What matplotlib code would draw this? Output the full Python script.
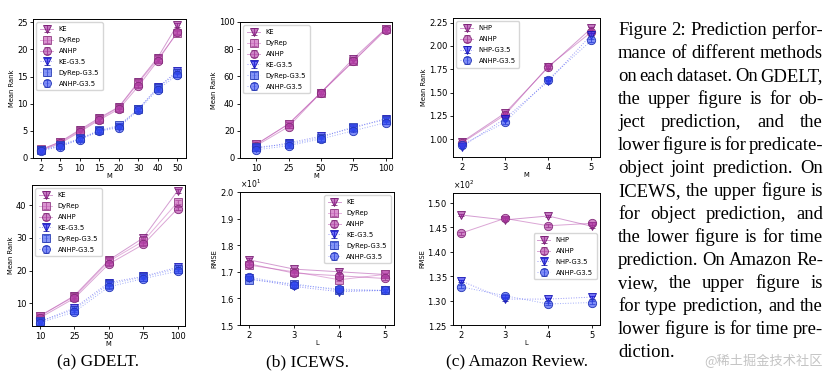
import matplotlib
matplotlib.use('Agg')
import matplotlib.pyplot as plt
from matplotlib.ticker import ScalarFormatter, MultipleLocator
from matplotlib.colors import to_rgba

# ---------------- data ----------------
gd_obj_M = ['2', '5', '10', '15', '20', '30', '40', '50']
gd_obj_KE = [1.5, 3.0, 5.2, 7.4, 9.4, 14.0, 18.5, 24.5]
gd_obj_DyRep = [1.6, 2.9, 5.0, 7.2, 9.3, 13.8, 18.2, 23.0]
gd_obj_ANHP = [1.4, 2.7, 4.8, 7.0, 9.0, 13.2, 17.9, 23.2]
gd_obj_KE_G = [1.4, 2.2, 3.5, 5.0, 5.8, 9.0, 13.0, 16.0]
gd_obj_DyRep_G = [1.5, 2.4, 3.6, 5.1, 6.0, 9.0, 12.9, 15.7]
gd_obj_ANHP_G = [1.3, 2.1, 3.4, 4.9, 5.6, 8.8, 12.6, 15.3]

ic_obj_M = ['10', '25', '50', '75', '100']
ic_obj_KE = [10, 25, 48, 73, 95]
ic_obj_DyRep = [10, 25, 48, 71, 95]
ic_obj_ANHP = [9, 23, 48, 71, 94]
ic_obj_KE_G = [7, 11, 16, 22, 29]
ic_obj_DyRep_G = [8, 10, 15, 23, 28]
ic_obj_ANHP_G = [6, 9, 14, 20, 26]

am_type_M = ['2', '3', '4', '5']
am_type_NHP = [0.97, 1.28, 1.77, 2.19]
am_type_ANHP = [0.96, 1.26, 1.78, 2.15]
am_type_NHP_G = [0.92, 1.22, 1.62, 2.12]
am_type_ANHP_G = [0.94, 1.18, 1.64, 2.06]

gd_joint_M = ['10', '25', '50', '75', '100']
gd_joint_KE = [6.0, 12.3, 23.2, 30.0, 44.5]
gd_joint_DyRep = [6.2, 12.0, 22.8, 29.0, 41.0]
gd_joint_ANHP = [5.5, 11.5, 22.0, 28.0, 39.0]
gd_joint_KE_G = [4.3, 8.5, 16.3, 18.2, 21.0]
gd_joint_DyRep_G = [4.5, 8.0, 15.8, 18.0, 20.5]
gd_joint_ANHP_G = [4.0, 7.3, 15.0, 17.5, 19.8]

ic_time_L = ['2', '3', '4', '5']
ic_time_KE = [17.45, 17.10, 17.00, 16.90]
ic_time_DyRep = [17.25, 17.00, 16.70, 16.90]
ic_time_ANHP = [17.30, 16.95, 16.85, 16.75]
ic_time_KE_G = [16.75, 16.45, 16.25, 16.30]
ic_time_DyRep_G = [16.70, 16.55, 16.30, 16.30]
ic_time_ANHP_G = [16.80, 16.50, 16.35, 16.30]

am_time_L = ['2', '3', '4', '5']
am_time_NHP = [147.5, 146.5, 147.3, 145.2]
am_time_ANHP = [143.8, 146.8, 145.3, 145.8]
am_time_NHP_G = [134.0, 130.3, 130.3, 130.7]
am_time_ANHP_G = [132.8, 131.0, 129.3, 129.6]

caption_labels = ['(a) GDELT.', '(b) ICEWS.', '(c) Amazon Review.']
paragraph_lines = [
    "Figure 2: Prediction perfor-",
    "mance of different methods",
    "on each dataset. On GDELT,",
    "the upper figure is for ob-",
    "ject prediction, and the",
    "lower figure is for predicate-",
    "object joint prediction. On",
    "ICEWS, the upper figure is",
    "for object prediction, and",
    "the lower figure is for time",
    "prediction. On Amazon Re-",
    "view, the upper figure is",
    "for type prediction, and the",
    "lower figure is for time pre-",
    "diction.",
]
watermark = "@稀土掘金技术社区"

# ---------------- styles ----------------
STY = {
    'KE': ('#a0259a', 'v', '-'),
    'NHP': ('#a0259a', 'v', '-'),
    'DyRep': ('#c455b4', 's', '-'),
    'ANHP': ('#b03aa3', 'o', '-'),
    'KE-G3.5': ('#1a1aee', 'v', ':'),
    'NHP-G3.5': ('#1a1aee', 'v', ':'),
    'DyRep-G3.5': ('#3a55f0', 's', ':'),
    'ANHP-G3.5': ('#3048f2', 'o', ':'),
}

W, H = 831, 384
fig = plt.figure(figsize=(W / 100, H / 100), dpi=100)


def ax_px(x0, y0, x1, y1):
    return fig.add_axes([x0 / W, 1 - y1 / H, (x1 - x0) / W, (y1 - y0) / H])


def panel(ax, xlabels, series, err, ylim, xlim, ylabel, xlabel, loc,
          bbox=None, sci=False, major=None):
    x = list(range(len(xlabels)))
    for name, vals in series:
        c, m, ls = STY[name]
        r, g, b, _ = to_rgba(c)
        ax.errorbar(x, vals, yerr=err, marker=m, ms=6.0,
                    color=(r, g, b, 0.45), ls=ls, lw=0.7,
                    mfc=(r, g, b, 0.62), mec=(r * 0.75, g * 0.75, b * 0.75, 1),
                    mew=0.6, ecolor=(r * 0.7, g * 0.7, b * 0.7, 0.9),
                    elinewidth=0.6, capsize=2.0, capthick=0.6, label=name)
    ax.set_xticks(x)
    ax.set_xticklabels(xlabels)
    ax.set_xlim(*xlim)
    ax.set_ylim(*ylim)
    if major is not None:
        ax.yaxis.set_major_locator(MultipleLocator(major))
    if sci:
        fmt = ScalarFormatter(useMathText=True)
        fmt.set_powerlimits((0, 0))
        ax.yaxis.set_major_formatter(fmt)
        ax.yaxis.get_offset_text().set_fontsize(5.5)
    ax.tick_params(labelsize=6.0, length=2.5, width=0.6, pad=1.5)
    ax.set_ylabel(ylabel, fontsize=4.9, labelpad=1.5)
    ax.set_xlabel(xlabel, fontsize=4.9, labelpad=0.3)
    for s in ax.spines.values():
        s.set_linewidth(0.7)
    kw = dict(loc=loc, fontsize=4.9, markerscale=0.95, handlelength=1.9,
              borderpad=0.55, labelspacing=0.72, handletextpad=0.8,
              framealpha=0.8, edgecolor='#cccccc')
    if bbox is not None:
        kw['bbox_to_anchor'] = bbox
    ax.legend(**kw)


ax1 = ax_px(33, 19, 186, 158)
panel(ax1, gd_obj_M,
      [('KE', gd_obj_KE), ('DyRep', gd_obj_DyRep), ('ANHP', gd_obj_ANHP),
       ('KE-G3.5', gd_obj_KE_G), ('DyRep-G3.5', gd_obj_DyRep_G),
       ('ANHP-G3.5', gd_obj_ANHP_G)],
      0.3, (0, 25.6), (-0.4, 7.45), 'Mean Rank', 'M', 'upper left', major=5)

ax2 = ax_px(240, 22, 392, 158)
panel(ax2, ic_obj_M,
      [('KE', ic_obj_KE), ('DyRep', ic_obj_DyRep), ('ANHP', ic_obj_ANHP),
       ('KE-G3.5', ic_obj_KE_G), ('DyRep-G3.5', ic_obj_DyRep_G),
       ('ANHP-G3.5', ic_obj_ANHP_G)],
      1.2, (0, 100), (-0.5, 4.2), 'Mean Rank', 'M', 'upper left', major=20)

ax3 = ax_px(453, 18, 600, 157)
panel(ax3, am_type_M,
      [('NHP', am_type_NHP), ('ANHP', am_type_ANHP),
       ('NHP-G3.5', am_type_NHP_G), ('ANHP-G3.5', am_type_ANHP_G)],
      0.015, (0.81, 2.30), (-0.2, 3.2), 'Mean Rank', 'M', 'upper left',
      major=0.25)

ax4 = ax_px(32, 185, 185, 326)
panel(ax4, gd_joint_M,
      [('KE', gd_joint_KE), ('DyRep', gd_joint_DyRep), ('ANHP', gd_joint_ANHP),
       ('KE-G3.5', gd_joint_KE_G), ('DyRep-G3.5', gd_joint_DyRep_G),
       ('ANHP-G3.5', gd_joint_ANHP_G)],
      0.6, (3, 46.2), (-0.23, 4.21), 'Mean Rank', 'M', 'upper left', major=10)

ax5 = ax_px(240, 192, 394, 325)
panel(ax5, ic_time_L,
      [('KE', ic_time_KE), ('DyRep', ic_time_DyRep), ('ANHP', ic_time_ANHP),
       ('KE-G3.5', ic_time_KE_G), ('DyRep-G3.5', ic_time_DyRep_G),
       ('ANHP-G3.5', ic_time_ANHP_G)],
      0.06, (15, 20), (-0.2, 3.21), 'RMSE', 'L', 'upper right', sci=True,
      major=1)

ax6 = ax_px(453, 193, 600, 325)
panel(ax6, am_time_L,
      [('NHP', am_time_NHP), ('ANHP', am_time_ANHP),
       ('NHP-G3.5', am_time_NHP_G), ('ANHP-G3.5', am_time_ANHP_G)],
      0.3, (125, 152), (-0.19, 3.19), 'RMSE', 'L', 'center right',
      bbox=(1.0, 0.52), sci=True, major=5)

# captions
for xc, lab in zip([98, 308, 517], caption_labels):
    fig.text(xc / W, 1 - 362 / H, lab, ha='center', va='center',
             fontsize=12.5, family='Liberation Serif')

# justified paragraph
renderer = fig.canvas.get_renderer()
x0, x1 = 618, 823
fs = 13.4
base0 = 35
step = 23
space_t = fig.text(0, 0, 'a a', fontsize=fs, family='Liberation Serif')
aa = fig.text(0, 0, 'aa', fontsize=fs, family='Liberation Serif')
space_w = (space_t.get_window_extent(renderer).width
           - aa.get_window_extent(renderer).width)
space_t.remove()
aa.remove()
for i, line in enumerate(paragraph_lines):
    yb = base0 + i * step
    words = line.split(' ')
    objs = []
    widths = []
    for w in words:
        t = fig.text(0, 1 - yb / H, w, fontsize=fs, family='Liberation Serif',
                     va='baseline', ha='left')
        objs.append(t)
        widths.append(t.get_window_extent(renderer).width)
    last = (i == len(paragraph_lines) - 1)
    if last or len(words) == 1:
        gap = space_w
    else:
        gap = (x1 - x0 - sum(widths)) / (len(words) - 1)
        gap = max(gap, 2.0)
    xc = x0
    for t, wd in zip(objs, widths):
        t.set_x(xc / W)
        xc += wd + gap

fig.text(823 / W, 1 - 361 / H, watermark, ha='right', va='center',
         fontsize=9.5, color='#c4c4c4', family=['Noto Sans CJK SC', 'DejaVu Sans'])

fig.savefig('out.png', dpi=100)
